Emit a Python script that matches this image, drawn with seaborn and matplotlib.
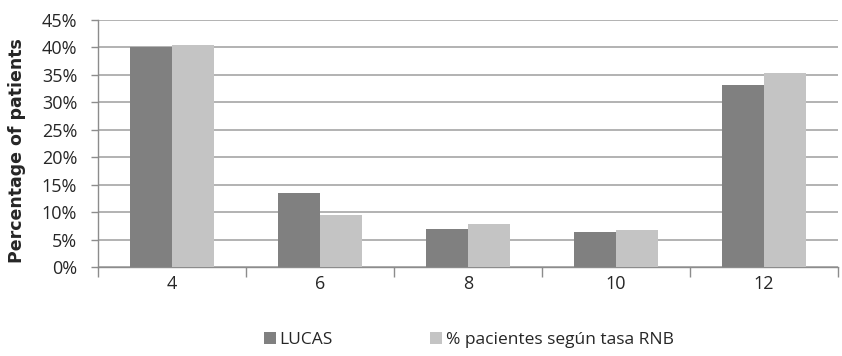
import numpy as np
import pandas as pd
import seaborn as sns
import matplotlib.pyplot as plt
from matplotlib.ticker import PercentFormatter, FixedLocator

# data
categories = ["4", "6", "8", "10", "12"]
lucas = [40.0, 13.4, 6.9, 6.3, 33.1]
rnb = [40.5, 9.4, 7.9, 6.7, 35.3]
series_names = ["LUCAS", "% pacientes según tasa RNB"]

df = pd.DataFrame({
    "cat": categories * 2,
    "value": lucas + rnb,
    "series": [series_names[0]] * len(categories) + [series_names[1]] * len(categories),
})

sns.set_style("white")
plt.rcParams["font.family"] = ["Open Sans", "DejaVu Sans"]

fig = plt.figure(figsize=(8.42, 3.56), dpi=100)
ax = fig.add_axes([0.1164, 0.25, 0.8786, 0.694])

sns.barplot(data=df, x="cat", y="value", hue="series", order=categories,
            palette=["#808080", "#c4c4c4"], width=0.57, saturation=1,
            edgecolor="none", ax=ax, legend=True, zorder=3)

ax.set_ylim(0, 45)
ax.set_xlim(-0.5, len(categories) - 0.5)
ax.set_yticks(np.arange(0, 46, 5))
ax.yaxis.set_major_formatter(PercentFormatter(decimals=0))
ax.yaxis.grid(True, color="#a6a6a6", linewidth=1.2, zorder=0)
ax.set_axisbelow(True)

for s in ["top", "right"]:
    ax.spines[s].set_visible(False)
for s in ["left", "bottom"]:
    ax.spines[s].set_color("#8c8c8c")
    ax.spines[s].set_linewidth(1.0)

# category separators as minor ticks on the x axis
ax.xaxis.set_minor_locator(FixedLocator(np.arange(-0.5, len(categories), 1.0)))
ax.tick_params(axis="x", which="major", length=0, pad=6, labelsize=13)
ax.tick_params(axis="x", which="minor", length=7, color="#8c8c8c", width=1, direction="out", bottom=True)
ax.tick_params(axis="y", length=5, color="#8c8c8c", width=1, direction="out", left=True, labelsize=13, pad=10)

ax.set_xlabel("")
ax.set_ylabel("Percentage of patients", fontsize=12.5, fontweight="bold",
              family=["DejaVu Sans"])
ax.yaxis.set_label_coords(-0.097, 0.47)

handles, labels = ax.get_legend_handles_labels()
ax.get_legend().remove()
fig.legend(handles, labels, loc="center", bbox_to_anchor=(0.557, 0.045), ncol=2,
           frameon=False, fontsize=12.5, handlelength=0.7, handleheight=0.7,
           handletextpad=0.2, columnspacing=5.6)

fig.savefig("out.png", dpi=100)
